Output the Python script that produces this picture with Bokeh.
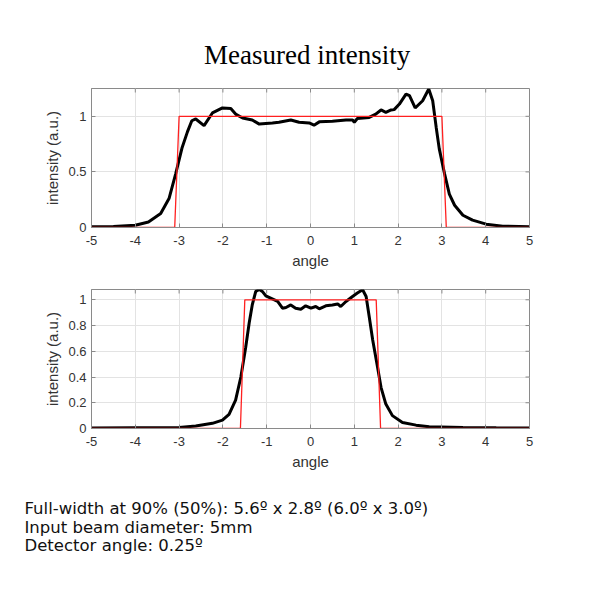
from bokeh.plotting import figure
from bokeh.layouts import column
from bokeh.models import FixedTicker, NumeralTickFormatter, Title, Range1d
from bokeh.embed import file_html
from bokeh.resources import INLINE

# ---- data ----
x_top = [-5, -4.5, -4.0, -3.7, -3.42, -3.23, -3.08, -2.93, -2.81, -2.71, -2.62, -2.43, -2.24, -2.01, -1.82,
         -1.71, -1.55, -1.33, -1.17, -0.87, -0.72, -0.45, -0.26, -0.03, 0.08, 0.2, 0.5, 0.81, 0.96, 1.0,
         1.07, 1.34, 1.49, 1.61, 1.72, 1.84, 1.91, 2.03, 2.18, 2.26, 2.39, 2.56, 2.7, 2.79, 2.87,
         2.94, 3.06, 3.17, 3.29, 3.48, 3.7, 4.01, 4.39, 5]
y_top = [0.006, 0.008, 0.02, 0.05, 0.125, 0.26, 0.48, 0.72, 0.86, 0.96, 0.976, 0.916, 1.03, 1.075, 1.07,
         1.02, 0.985, 0.967, 0.93, 0.94, 0.946, 0.967, 0.946, 0.94, 0.92, 0.95, 0.955, 0.967, 0.967, 0.946,
         0.98, 0.99, 1.02, 1.057, 1.036, 1.057, 1.06, 1.11, 1.2, 1.185, 1.075, 1.14, 1.245, 1.14, 0.9,
         0.707, 0.484, 0.3, 0.2, 0.11, 0.066, 0.03, 0.012, 0.006]
red_x_top = [-5, -3.1, -3.0, 3.0, 3.1, 5]
red_y_top = [0, 0, 1, 1, 0, 0]

x_bot = [-5, -3.0, -2.62, -2.24, -2.01, -1.86, -1.71, -1.59, -1.48, -1.40, -1.33, -1.25, -1.17, -1.10, -1.02,
         -0.91, -0.75, -0.64, -0.56, -0.45, -0.34, -0.22, -0.11, 0.01, 0.12, 0.20, 0.35, 0.50, 0.62, 0.69,
         0.81, 0.96, 1.07, 1.19, 1.27, 1.34, 1.42, 1.53, 1.61, 1.72, 1.87, 2.10, 2.41, 2.71, 3.48, 4.24, 5]
y_bot = [0.003, 0.008, 0.02, 0.04, 0.065, 0.11, 0.22, 0.40, 0.63, 0.82, 0.96, 1.065, 1.08, 1.065, 1.03,
         1.013, 0.987, 0.935, 0.94, 0.96, 0.935, 0.927, 0.953, 0.935, 0.948, 0.93, 0.953, 0.96, 0.968, 0.948,
         0.987, 1.026, 1.052, 1.078, 1.026, 0.87, 0.687, 0.478, 0.32, 0.19, 0.10, 0.047, 0.026, 0.013, 0.008,
         0.005, 0.003]
red_x_bot = [-5, -1.6, -1.5, 1.5, 1.6, 5]
red_y_bot = [0, 0, 1, 1, 0, 0]

x_ticks = [-5, -4, -3, -2, -1, 0, 1, 2, 3, 4, 5]
y_ticks_top = [0, 0.5, 1]
y_ticks_bot = [0, 0.2, 0.4, 0.6, 0.8, 1]

title_text = "Measured  intensity"
notes = ["Full-width at 90% (50%): 5.6º x 2.8º (6.0º x 3.0º)",
         "Input beam diameter: 5mm",
         "Detector angle: 0.25º"]

AX = "#8a8a8a"
LBL = "#333333"
FONT = "Liberation Sans"
FRAME_W, FRAME_H, TICK = 438, 139, 4


def style(p, yticks, xlabel, xr, yr):
    xa = p.xaxis[0]
    ya = p.yaxis[0]
    xa.ticker = FixedTicker(ticks=x_ticks)
    ya.ticker = FixedTicker(ticks=yticks)
    xa.formatter = NumeralTickFormatter(format="0")
    ya.formatter = NumeralTickFormatter(format="0.[0]")
    for ax in [xa, ya]:
        ax.axis_line_color = AX
        ax.major_tick_line_color = AX
        ax.major_tick_in = TICK
        ax.major_tick_out = 0
        ax.minor_tick_line_color = None
        ax.major_label_text_font = FONT
        ax.major_label_text_font_size = "13px"
        ax.major_label_text_color = LBL
        ax.axis_label_text_font = FONT
        ax.axis_label_text_font_size = "15px"
        ax.axis_label_text_font_style = "normal"
        ax.axis_label_text_color = LBL
        ax.axis_label_standoff = 4
    xa.major_label_standoff = 8
    ya.major_label_standoff = 5
    xa.axis_label = xlabel
    ya.axis_label = "intensity (a.u.)"
    # inward ticks on the top and right edges of the box (MATLAB style)
    dy = TICK * (yr[1] - yr[0]) / FRAME_H
    dx = TICK * (xr[1] - xr[0]) / FRAME_W
    p.segment(x0=x_ticks, x1=x_ticks, y0=[yr[1]] * len(x_ticks), y1=[yr[1] - dy] * len(x_ticks),
              line_color=AX, line_width=1)
    p.segment(x0=[xr[1]] * len(yticks), x1=[xr[1] - dx] * len(yticks), y0=yticks, y1=yticks,
              line_color=AX, line_width=1)
    p.xgrid.grid_line_color = "#e3e3e3"
    p.ygrid.grid_line_color = "#e3e3e3"
    p.outline_line_color = AX


xr1, yr1 = (-5, 5), (0, 1.25)
p1 = figure(width=569, height=275, output_backend="svg", toolbar_location=None,
            x_range=Range1d(*xr1), y_range=Range1d(*yr1),
            min_border_left=91, min_border_right=40, min_border_top=88, min_border_bottom=48)
p1.title.text = title_text
p1.title.align = "center"
p1.title.text_font = "Liberation Serif"
p1.title.text_font_size = "27px"
p1.title.text_font_style = "normal"
p1.title.text_color = "#000000"
p1.title.standoff = 37
style(p1, y_ticks_top, "angle", xr1, yr1)
p1.line(x_top, y_top, line_color="black", line_width=3)
p1.line(red_x_top, red_y_top, line_color="#ff2020", line_width=1.3)

xr2, yr2 = (-5, 5), (0, 1.08)
p2 = figure(width=569, height=290, output_backend="svg", toolbar_location=None,
            x_range=Range1d(*xr2), y_range=Range1d(*yr2),
            min_border_left=91, min_border_right=40, min_border_top=14, min_border_bottom=137)
style(p2, y_ticks_bot, "angle\n", xr2, yr2)
p2.line(x_bot, y_bot, line_color="black", line_width=3)
p2.line(red_x_bot, red_y_bot, line_color="#ff2020", line_width=1.3)
note_standoffs = [8, -12, 6]
for t, s in zip(notes, note_standoffs):
    p2.add_layout(Title(text=t, align="left", offset=-67, text_font="DejaVu Sans",
                        text_font_size="16.5px", text_font_style="normal", text_color="#111111",
                        standoff=s), "below")

layout = column(p1, p2, spacing=0)
open("out.html", "w").write(file_html(layout, INLINE))
